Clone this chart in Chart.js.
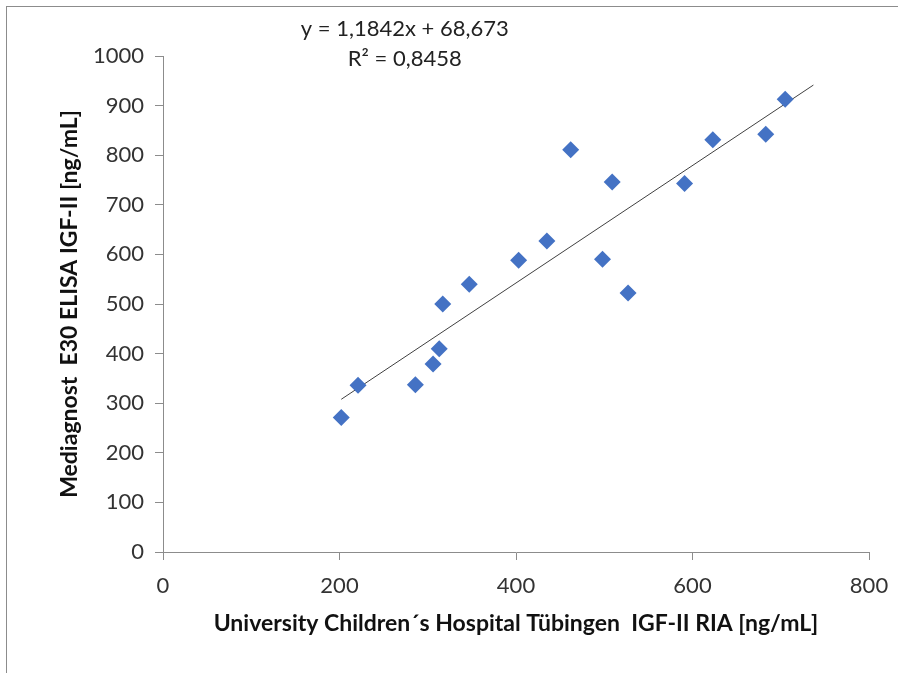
<!DOCTYPE html>
<html>
<head>
<meta charset="utf-8">
<script src="https://cdn.jsdelivr.net/npm/chart.js@4.4.1/dist/chart.umd.min.js"></script>
<style>
    html, body { margin: 0; padding: 0; background: #fff; }
    #wrap { position: relative; width: 898px; height: 673px; overflow: hidden; }
    #frame { position: absolute; left: 6px; top: 6px; width: 1000px; height: 1000px;
             border-left: 1px solid #8c8c8c; border-top: 1px solid #8c8c8c; }
    canvas { position: absolute; left: 0; top: 0; }
</style>
</head>
<body>
<div id="wrap">
    <div id="frame"></div>
    <canvas id="scatterChart" width="898" height="673"></canvas>
</div>
<script>
// RIA values (x) and ELISA values (y)
const riaValues = [202, 221, 286, 306, 313, 317, 347, 403, 435, 462, 498, 509, 527, 591, 623, 683, 705];
const elisaValues = [271, 336, 337, 379, 410, 500, 540, 588, 627, 811, 590, 746, 522, 743, 831, 842, 913];

// Linear trendline as printed in the chart
const trendSlope = 1.1842;
const trendIntercept = 68.673;
const trendRange = [202, 737];

const xTicks = [0, 200, 400, 600, 800];
const yTicks = [0, 100, 200, 300, 400, 500, 600, 700, 800, 900, 1000];

const equationLines = ['y = 1,1842x + 68,673', 'R\u00B2 = 0,8458'];

const FONT = 'Lato, "Open Sans", sans-serif';

// Draw the trendline equation above the plot
const equationPlugin = {
    id: 'equationText',
    afterDraw(chart) {
        const ctx = chart.ctx;
        const cx = chart.scales.x.getPixelForValue(274);
        ctx.save();
        ctx.font = '22px ' + FONT;
        ctx.fillStyle = '#222';
        ctx.textAlign = 'center';
        ctx.textBaseline = 'middle';
        ctx.fillText(equationLines[0], cx, chart.chartArea.top - 27);
        ctx.fillText(equationLines[1], cx, chart.chartArea.top + 3);
        ctx.restore();
    }
};

function initializeScatterChart() {
    const ctx = document.getElementById('scatterChart');
    if (!ctx) return;

    const points = riaValues.map((x, i) => ({ x: x, y: elisaValues[i] }));
    const trendPoints = trendRange.map(x => ({ x: x, y: trendSlope * x + trendIntercept }));

    const axisColor = '#8c8c8c';

    new Chart(ctx, {
        type: 'scatter',
        data: {
            datasets: [{
                label: 'IGF-II',
                data: points,
                pointStyle: 'rectRot',
                pointRadius: 8.5,
                pointHoverRadius: 8.5,
                backgroundColor: '#4472C4',
                borderColor: '#4472C4',
                borderWidth: 0
            }, {
                type: 'line',
                label: 'Trend',
                data: trendPoints,
                borderColor: '#404040',
                borderWidth: 1,
                pointRadius: 0,
                fill: false
            }]
        },
        options: {
            responsive: false,
            animation: false,
            layout: {
                padding: { left: 40, top: 56, right: 29, bottom: 26 }
            },
            plugins: {
                legend: { display: false },
                tooltip: { enabled: false }
            },
            scales: {
                x: {
                    type: 'linear',
                    min: 0,
                    max: 800,
                    afterBuildTicks: (scale) => { scale.ticks = xTicks.map(v => ({ value: v })); },
                    afterFit: (scale) => {
                        scale.height = 95;
                        scale.paddingLeft = 0;
                        scale.paddingRight = 0;
                    },
                    grid: {
                        drawOnChartArea: false,
                        drawTicks: true,
                        tickLength: 8,
                        color: axisColor
                    },
                    border: { display: true, color: axisColor, width: 1 },
                    ticks: {
                        padding: 13,
                        color: '#333',
                        font: { family: FONT, size: 22 },
                        callback: (v) => String(v)
                    },
                    title: {
                        display: true,
                        text: 'University Children\u00B4s Hospital T\u00FCbingen  IGF-II RIA [ng/mL]',
                        color: '#111',
                        font: { family: FONT, size: 23, weight: 'bold' },
                        padding: { top: 0, bottom: 10 }
                    }
                },
                y: {
                    type: 'linear',
                    min: 0,
                    max: 1000,
                    afterBuildTicks: (scale) => { scale.ticks = yTicks.map(v => ({ value: v })); },
                    afterFit: (scale) => { scale.width = 123; },
                    grid: {
                        drawOnChartArea: false,
                        drawTicks: true,
                        tickLength: 8,
                        color: axisColor
                    },
                    border: { display: true, color: axisColor, width: 1 },
                    ticks: {
                        padding: 11,
                        color: '#333',
                        font: { family: FONT, size: 22 },
                        callback: (v) => String(v)
                    },
                    title: {
                        display: true,
                        text: 'Mediagnost  E30 ELISA IGF-II [ng/mL]',
                        color: '#111',
                        font: { family: FONT, size: 23, weight: 'bold' },
                        padding: { top: 16, bottom: 0 }
                    }
                }
            }
        },
        plugins: [equationPlugin]
    });
}

document.addEventListener('DOMContentLoaded', initializeScatterChart);
</script>
</body>
</html>
